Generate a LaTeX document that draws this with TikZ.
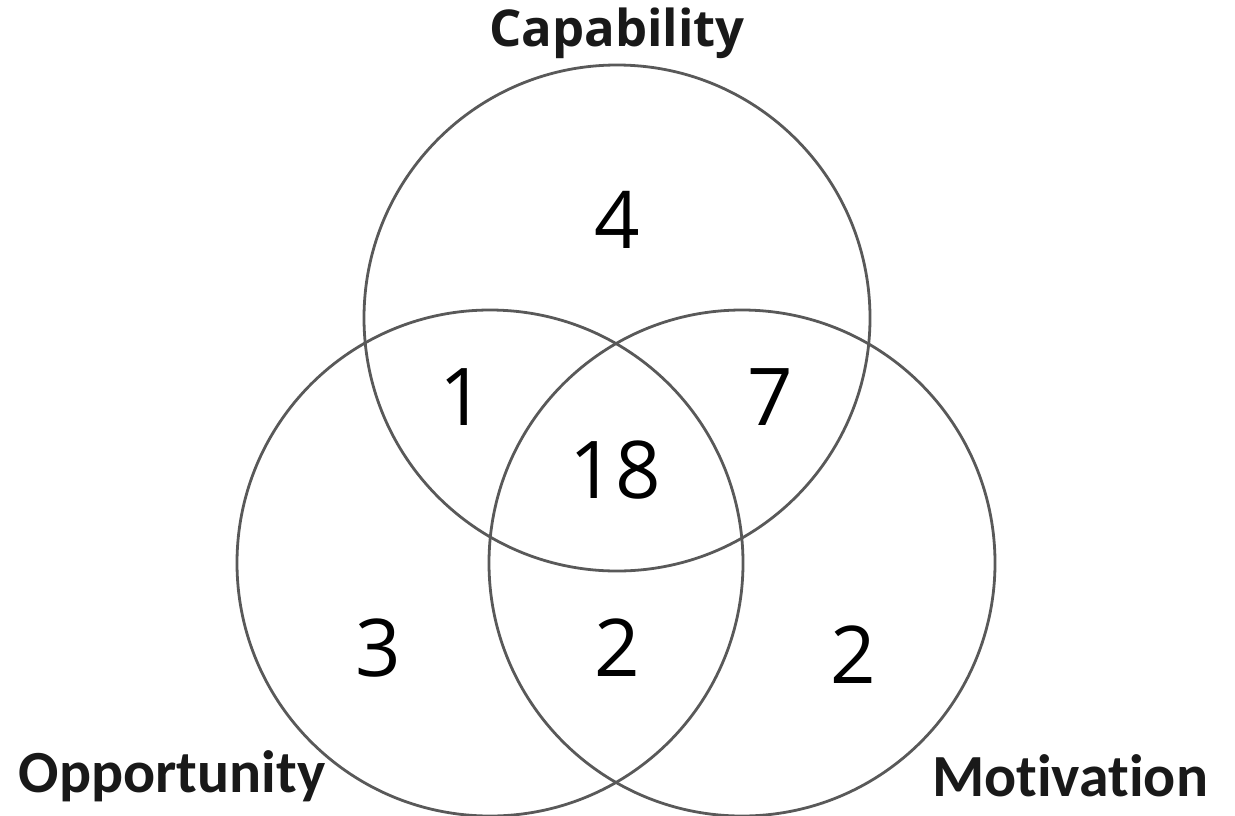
\documentclass[tikz,border=0pt]{standalone}
\usepackage{fontspec}
\setmainfont{Open Sans}
\newfontfamily\labfont[Ligatures={NoCommon}]{Carlito}
\newfontfamily\capfont{Open Sans}
\begin{document}
\begin{tikzpicture}[x=0.5bp,y=-0.5bp,
  ring/.style={draw=black!65,line width=1.4bp},
  setlabel/.style={font=\labfont\bfseries\fontsize{30}{30}\selectfont,text=black!90},
  count/.style={font=\fontsize{40}{40}\selectfont,text=black}]
\useasboundingbox (0,0) rectangle (1235,815);
\draw[ring] (617,318) circle[radius=253];
\draw[ring] (490,563) circle[radius=253];
\draw[ring] (742,563) circle[radius=253];
\node[font=\capfont\bfseries\fontsize{25.5}{25.5}\selectfont,text=black!90] (cap) at (617,33) {Capability};
\node[setlabel] (opp) at (172,776) {Opportunity};
\node[setlabel] (mot) at (1070,776) {Motivation};
\node[count] (n4) at (617,220) {4};
\node[count] (n1) at (462,397) {1};
\node[count] (n7) at (770,397) {7};
\node[count] (n18) at (615,470) {18};
\node[count] (n3) at (378,648) {3};
\node[count] (n2a) at (617,648) {2};
\node[count] (n2b) at (853,655) {2};
\end{tikzpicture}
\end{document}
